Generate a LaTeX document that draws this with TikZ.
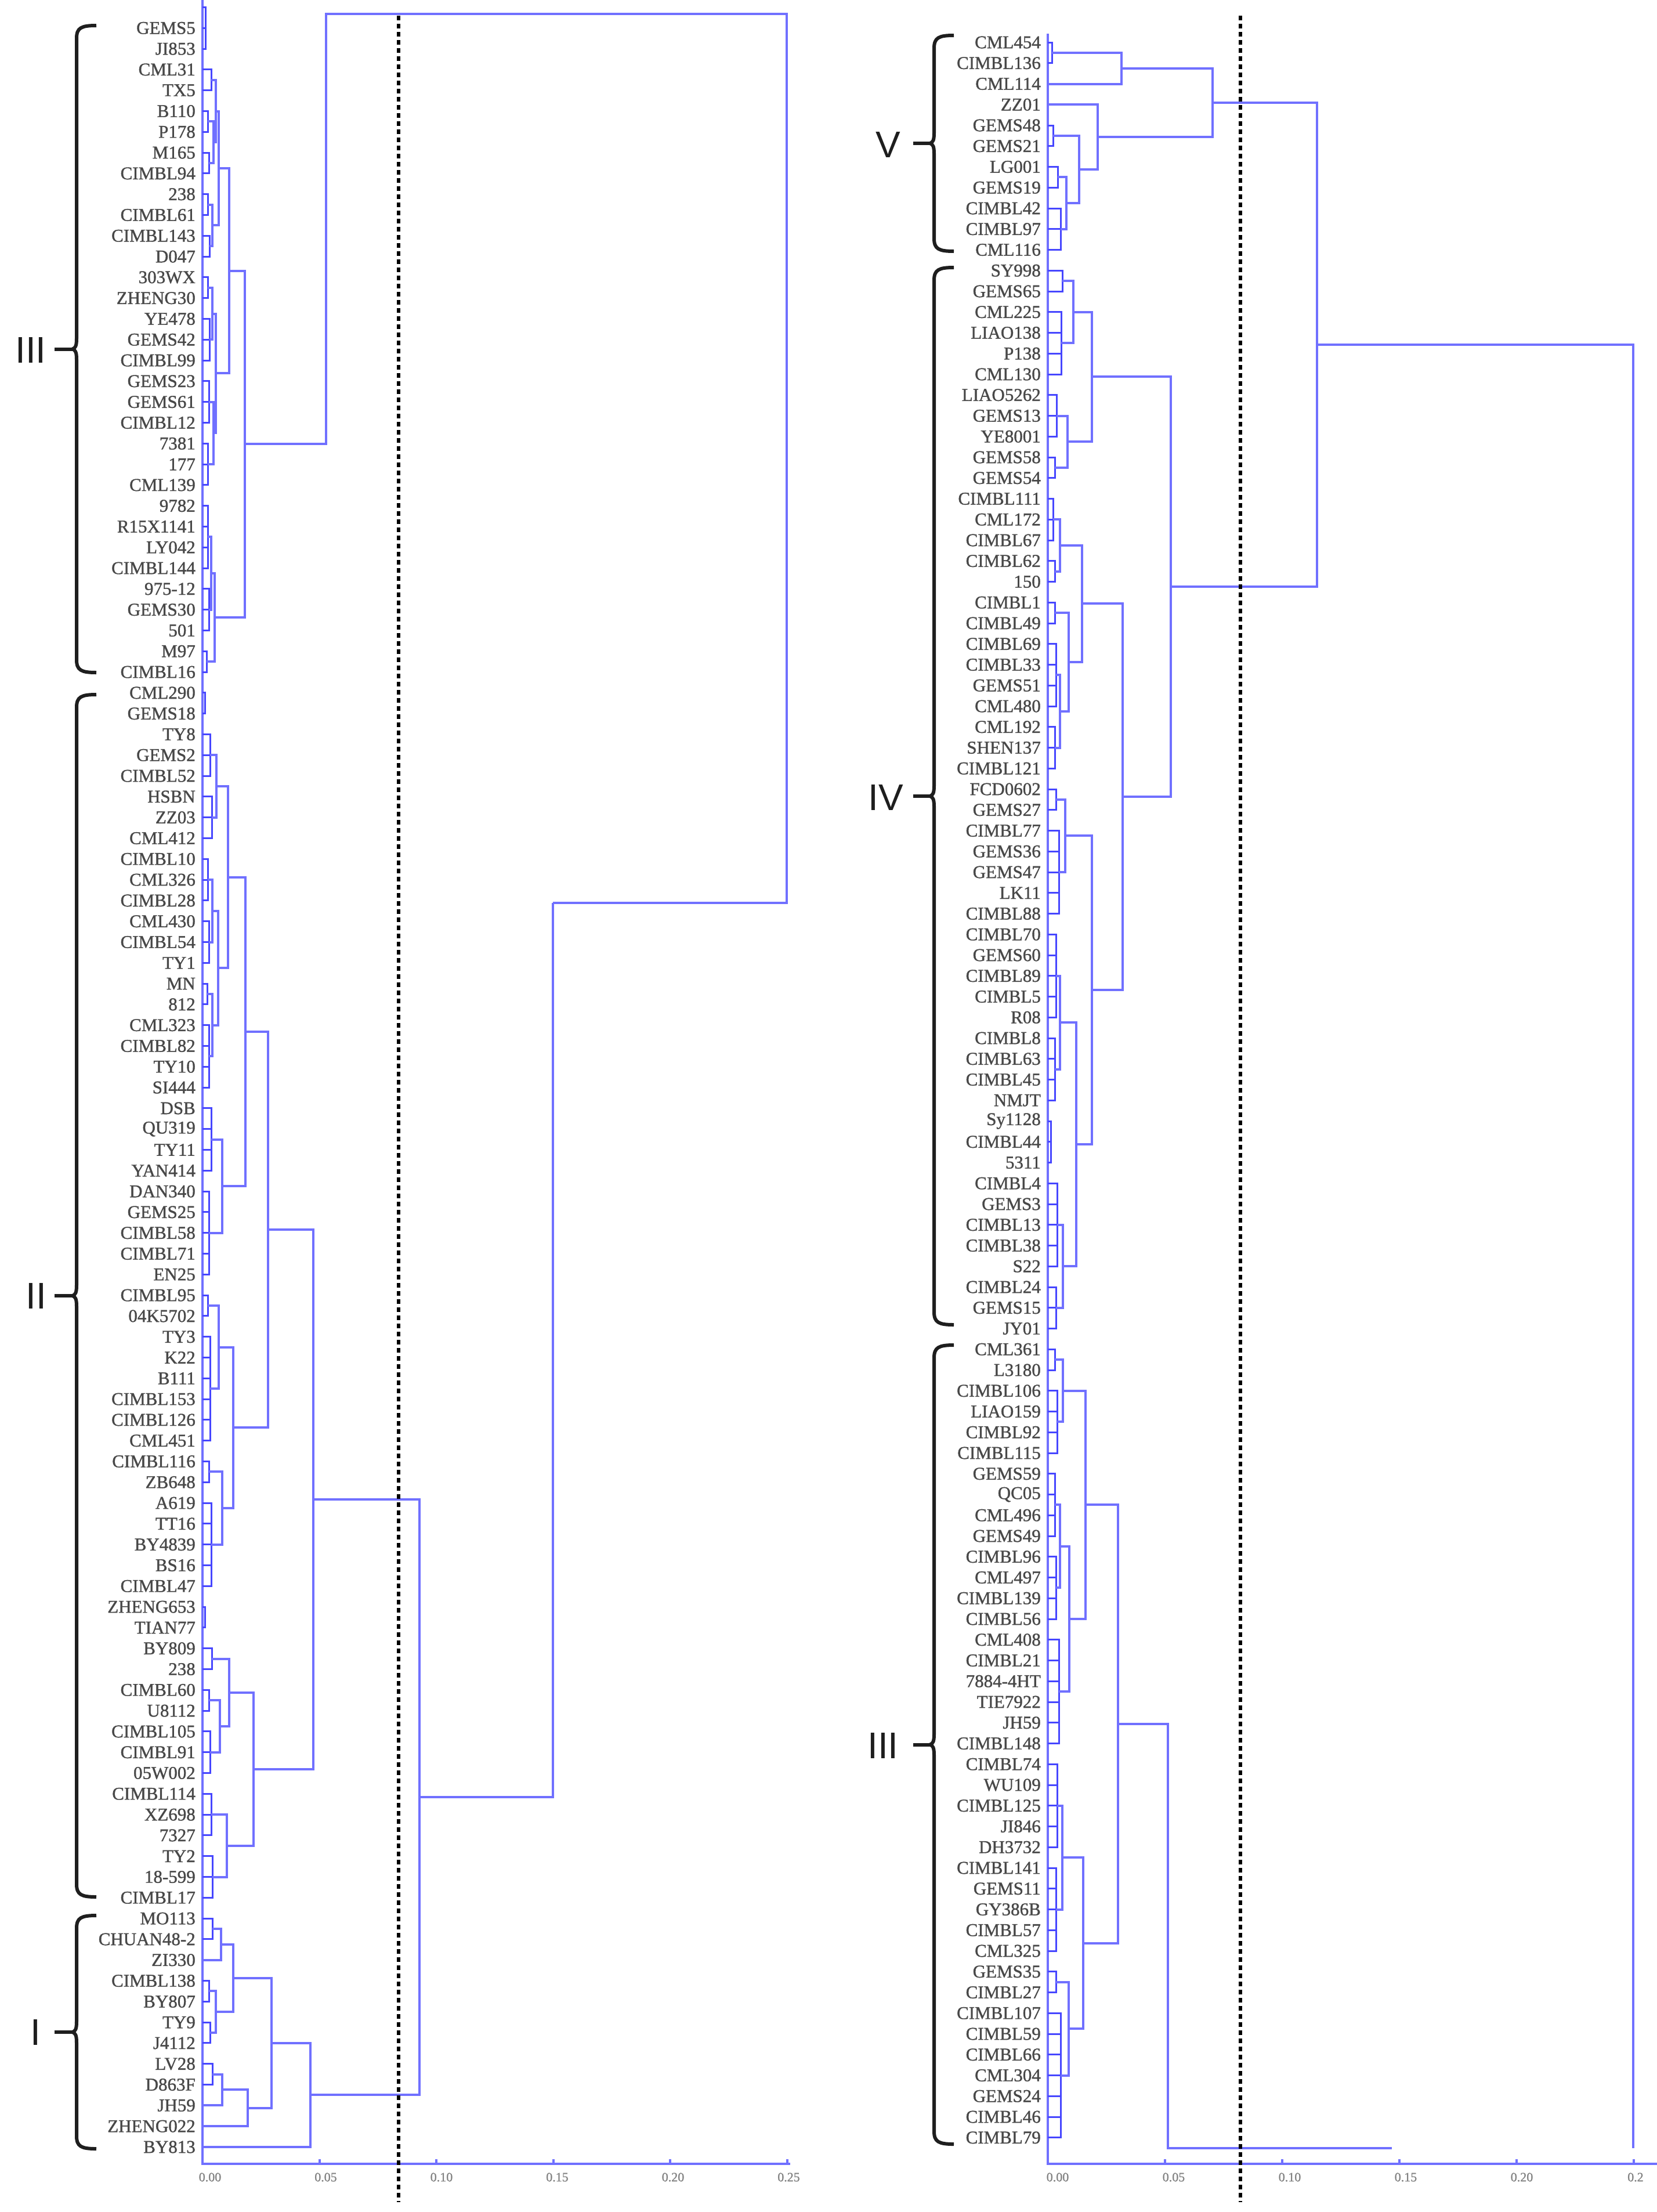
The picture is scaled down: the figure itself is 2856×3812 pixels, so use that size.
\documentclass[tikz,border=0pt]{standalone}
\usepackage{fontspec}
\setmainfont{Liberation Serif}
\newfontfamily\grpfont{Liberation Sans}
\newfontfamily\labfont{Liberation Serif}[FakeBold=1.2]
\usetikzlibrary{calc}
\definecolor{treeblue}{RGB}{112,112,255}
\definecolor{leafblue}{RGB}{70,70,255}
\definecolor{labgray}{RGB}{72,72,72}
\definecolor{tickgray}{RGB}{130,130,130}
\definecolor{brkblack}{RGB}{30,30,30}
\tikzset{
  br/.style={draw=treeblue, line width=4pt},
  fine/.style={draw=leafblue, line width=3pt},
  leaflab/.style={anchor=east, inner sep=0pt, text=labgray, font=\labfont\fontsize{31}{31}\selectfont},
  ticklab/.style={inner sep=0pt, text=tickgray, font=\labfont\fontsize{22}{22}\selectfont},
  grplab/.style={inner sep=0pt, text=brkblack, font=\grpfont\fontsize{64}{64}\selectfont},
  brk/.style={draw=brkblack, line width=6pt},
  cutline/.style={draw=black, line width=6pt, dash pattern=on 8pt off 6pt},
}
% join two children at height x
\newcommand\dgjoin[4]{%
  \coordinate (#1-m) at ($(#3)!0.5!(#4)$);
  \coordinate (#1) at (#2,0 |- #1-m);
  \draw[br] (#3) -| (#1) |- (#4);
}
% comb of consecutive leaves
\newcommand\dgcomb[5]{%
  \coordinate (#1-m) at ($(#3#4)!0.5!(#3#5)$);
  \coordinate (#1) at (#2,0 |- #1-m);
  \foreach \k in {#4,...,#5} {\draw[fine] (#3\k) -| (#1);}
}
% group brace: name, x of vertical, ytop, ybot, x of tick start
\newcommand\dgbrace[5]{%
  \coordinate (#1t) at (#2+34,#3);
  \coordinate (#1b) at (#2+34,#4);
  \coordinate (#1m) at (#2-7,{(#3+#4)/2});
  \coordinate (#1k) at (#5,{(#3+#4)/2});
  \draw[brk] (#1t) .. controls (#2+8,#3) and (#2,#3+4) .. (#2,#3+22)
     -- (#2,{(#3+#4)/2-18}) .. controls (#2,{(#3+#4)/2-5}) and (#2-2,{(#3+#4)/2-2}) .. (#1m)
     .. controls (#2-2,{(#3+#4)/2+2}) and (#2,{(#3+#4)/2+5}) .. (#2,{(#3+#4)/2+18})
     -- (#2,#4-22) .. controls (#2,#4-4) and (#2+8,#4) .. (#1b);
  \draw[brk] (#1k) -- (#1m);
}
\begin{document}
\begin{tikzpicture}[x=1pt,y=-1pt]
\useasboundingbox (0,0) rectangle (2856,3812);
% ---------------- leaves
\foreach \i in {0,...,103} {\coordinate (L\i) at (349,{12.5+35.8*\i});}
\foreach \i in {0,...,101} {\coordinate (R\i) at (1806,{73+35.75*\i});}
% ---------------- leaf lines and axes
\coordinate (lx0t) at (349,0); \coordinate (lx0b) at (349,3729);
\coordinate (rx0t) at (1806,58); \coordinate (rx0b) at (1806,3729);
\coordinate (laxR) at (1362,3729); \coordinate (raxR) at (2856,3729);
\draw[br] (lx0t) -- (lx0b) -- (laxR);
\draw[br] (rx0t) -- (rx0b) -- (raxR);
\foreach \k in {1,...,5} {
  \coordinate (ltk\k) at ({349+201.5*\k},3729); \coordinate (ltu\k) at ({349+201.5*\k},3721);
  \draw[br] (ltk\k) -- (ltu\k);
  \coordinate (rtk\k) at ({1806+202*\k},3729); \coordinate (rtu\k) at ({1806+202*\k},3721);
  \draw[br] (rtk\k) -- (rtu\k);
}
% ================= LEFT TREE
\dgcomb{lc0}{354}{L}{0}{2}
\dgcomb{lc3}{364}{L}{3}{4}
\dgcomb{lc5}{358}{L}{5}{6}
\dgcomb{lc7}{360}{L}{7}{8}
\dgjoin{lj5}{368}{lc5}{lc7}
\dgjoin{lQ1a}{372}{lc3}{lj5}
\dgcomb{lc9}{358}{L}{9}{10}
\dgcomb{lc11}{361}{L}{11}{12}
\dgjoin{lQ1b}{366}{lc9}{lc11}
\dgjoin{lQ1}{377}{lQ1a}{lQ1b}
\dgcomb{lc13}{358}{L}{13}{14}
\dgcomb{lc15}{361}{L}{15}{17}
\dgjoin{lQ2a}{366}{lc13}{lc15}
\dgcomb{lc18}{360}{L}{18}{20}
\dgcomb{lc21}{358}{L}{21}{23}
\dgjoin{lQ2b}{368}{lc18}{lc21}
\dgjoin{lQ2}{372}{lQ2a}{lQ2b}
\dgjoin{lP1}{395}{lQ1}{lQ2}
\dgcomb{lc24}{358}{L}{24}{27}
\dgcomb{lc28}{360}{L}{28}{30}
\dgjoin{lP2a}{364}{lc24}{lc28}
\dgcomb{lc31}{356}{L}{31}{32}
\dgjoin{lP2}{370}{lP2a}{lc31}
\dgjoin{lIII}{422}{lP1}{lP2}
% II
\dgcomb{lc33}{353}{L}{33}{34}
\dgcomb{lc35}{362}{L}{35}{37}
\dgcomb{lc38}{365}{L}{38}{40}
\dgjoin{lN373}{373}{lc35}{lc38}
\dgcomb{lc41}{358}{L}{41}{43}
\dgcomb{lc44}{360}{L}{44}{46}
\dgjoin{lb1}{366}{lc41}{lc44}
\dgcomb{lc47}{357}{L}{47}{48}
\dgcomb{lc49}{360}{L}{49}{52}
\dgjoin{lb2}{366}{lc47}{lc49}
\dgjoin{lb}{376}{lb1}{lb2}
\dgjoin{lN393}{393}{lN373}{lb}
\dgcomb{lc53}{364}{L}{53}{56}
\dgcomb{lc57}{360}{L}{57}{61}
\dgjoin{lN380}{383}{lc53}{lc57}
\dgjoin{lN423}{423}{lN393}{lN380}
\dgcomb{lc62}{358}{L}{62}{63}
\dgcomb{lc64}{362}{L}{64}{69}
\dgjoin{lN377}{377}{lc62}{lc64}
\dgcomb{lc70}{360}{L}{70}{71}
\dgcomb{lc72}{364}{L}{72}{76}
\dgjoin{lN383}{383}{lc70}{lc72}
\dgjoin{lN402}{402}{lN377}{lN383}
\dgjoin{lN462}{462}{lN423}{lN402}
\dgcomb{lc77}{353}{L}{77}{78}
\dgcomb{lc79}{365}{L}{79}{80}
\dgcomb{lc81}{360}{L}{81}{82}
\dgcomb{lc83}{362}{L}{83}{85}
\dgjoin{lN379}{379}{lc81}{lc83}
\dgjoin{lN395}{395}{lc79}{lN379}
\dgcomb{lc86}{364}{L}{86}{88}
\dgcomb{lc89}{366}{L}{89}{91}
\dgjoin{lN391}{391}{lc86}{lc89}
\dgjoin{lN437}{437}{lN395}{lN391}
\dgjoin{lN540}{540}{lN462}{lN437}
% I
\dgcomb{lc92}{366}{L}{92}{93}
\dgjoin{lN379b}{381}{lc92}{L94}
\dgcomb{lc95}{360}{L}{95}{96}
\dgcomb{lc97}{362}{L}{97}{98}
\dgjoin{lN372}{372}{lc95}{lc97}
\dgjoin{lN402b}{402}{lN379b}{lN372}
\dgcomb{lc99}{366}{L}{99}{100}
\dgjoin{lN383b}{383}{lc99}{L101}
\dgjoin{lN427}{427}{lN383b}{L102}
\dgjoin{lN468}{468}{lN402b}{lN427}
\dgjoin{lN535}{535}{lN468}{L103}
\dgjoin{lN723}{723}{lN540}{lN535}
% upper links
\coordinate (lA) at (562,24); \coordinate (lRt) at (1356,24);
\coordinate (lRb) at (1356,1556); \coordinate (lB) at (953,1556);
\draw[br] (lIII) -| (lA) -- (lRt) -- (lRb) -- (lB);
\draw[br] (lN723) -| (lB);
% ================= RIGHT TREE
% V
\dgcomb{rc0}{1813}{R}{0}{1}
\dgjoin{rVt2}{1933}{rc0}{R2}
\dgcomb{rc4}{1815}{R}{4}{5}
\dgcomb{rc6}{1823}{R}{6}{7}
\dgcomb{rc8}{1828}{R}{8}{10}
\dgjoin{rN1838}{1838}{rc6}{rc8}
\dgjoin{rN1860}{1860}{rc4}{rN1838}
\dgjoin{rN1892}{1892}{R3}{rN1860}
\dgjoin{rN2090}{2090}{rVt2}{rN1892}
% IV
\dgcomb{rc11}{1831}{R}{11}{12}
\dgcomb{rc13}{1829}{R}{13}{16}
\dgjoin{rN1850}{1850}{rc11}{rc13}
\dgcomb{rc17}{1821}{R}{17}{19}
\dgcomb{rc20}{1818}{R}{20}{21}
\dgjoin{rN1840}{1840}{rc17}{rc20}
\dgjoin{rN1882}{1882}{rN1850}{rN1840}
\dgcomb{rc22}{1815}{R}{22}{24}
\dgcomb{rc25}{1818}{R}{25}{26}
\dgjoin{rN1827a}{1827}{rc22}{rc25}
\dgcomb{rc27}{1818}{R}{27}{28}
\dgcomb{rc29}{1820}{R}{29}{32}
\dgcomb{rc33}{1818}{R}{33}{35}
\dgjoin{rN1827b}{1827}{rc29}{rc33}
\dgjoin{rN1842}{1842}{rc27}{rN1827b}
\dgjoin{rN1865}{1865}{rN1827a}{rN1842}
\dgcomb{rc36}{1820}{R}{36}{37}
\dgcomb{rc38}{1825}{R}{38}{42}
\dgjoin{rN1829}{1836}{rc36}{rc38}
\dgcomb{rc43}{1820}{R}{43}{47}
\dgcomb{rc48}{1818}{R}{48}{51}
\dgjoin{rN1827c}{1827}{rc43}{rc48}
\dgcomb{rc52}{1811}{R}{52}{54}
\dgcomb{rc55}{1822}{R}{55}{59}
\dgcomb{rc60}{1820}{R}{60}{62}
\dgjoin{rN1832}{1832}{rc55}{rc60}
\dgjoin{rN1855}{1855}{rN1827c}{rN1832}
\dgjoin{rN1882b}{1882}{rN1829}{rN1855}
\dgjoin{rN1935}{1935}{rN1865}{rN1882b}
\dgjoin{rN2018}{2018}{rN1882}{rN1935}
\dgjoin{rN2270}{2270}{rN2090}{rN2018}
% III (right)
\dgcomb{rc63}{1818}{R}{63}{64}
\dgcomb{rc65}{1822}{R}{65}{68}
\dgjoin{rN1832b}{1832}{rc63}{rc65}
\dgcomb{rc69}{1818}{R}{69}{72}
\dgcomb{rc73}{1820}{R}{73}{76}
\dgjoin{rN1827d}{1827}{rc69}{rc73}
\dgcomb{rc77}{1825}{R}{77}{82}
\dgjoin{rN1843}{1843}{rN1827d}{rc77}
\dgjoin{rN1871}{1871}{rN1832b}{rN1843}
\dgcomb{rc83}{1822}{R}{83}{87}
\dgcomb{rc88}{1820}{R}{88}{92}
\dgjoin{rN1831}{1831}{rc83}{rc88}
\dgcomb{rc93}{1820}{R}{93}{94}
\dgcomb{rc95}{1828}{R}{95}{101}
\dgjoin{rN1842b}{1842}{rc93}{rc95}
\dgjoin{rN1867}{1867}{rN1831}{rN1842b}
\dgjoin{rN1927}{1927}{rN1871}{rN1867}
% root and lower link
\coordinate (rRt) at (2815,0 |- rN2270);
\coordinate (rRb) at (2815,3702);
\draw[br] (rN2270) -- (rRt) -- (rRb);
\coordinate (rIIIb) at (2013,3702); \coordinate (rIIIe) at (2399,3702);
\draw[br] (rN1927) -| (rIIIb) -- (rIIIe);
% ================= cut-off lines
\coordinate (ldt) at (687,27); \coordinate (ldb) at (687,3795);
\coordinate (rdt) at (2138,27); \coordinate (rdb) at (2138,3795);
\draw[cutline] (ldt) -- (ldb);
\draw[cutline] (rdt) -- (rdb);
% ================= labels
\foreach \n [count=\i from 1] in {GEMS5,JI853,CML31,TX5,B110,P178,M165,CIMBL94,238,CIMBL61,CIMBL143,D047,303WX,ZHENG30,YE478,GEMS42,CIMBL99,GEMS23,GEMS61,CIMBL12,7381,177,CML139,9782,R15X1141,LY042,CIMBL144,975-12,GEMS30,501,M97,CIMBL16,CML290,GEMS18,TY8,GEMS2,CIMBL52,HSBN,ZZ03,CML412,CIMBL10,CML326,CIMBL28,CML430,CIMBL54,TY1,MN,812,CML323,CIMBL82,TY10,SI444,DSB,QU319,TY11,YAN414,DAN340,GEMS25,CIMBL58,CIMBL71,EN25,CIMBL95,04K5702,TY3,K22,B111,CIMBL153,CIMBL126,CML451,CIMBL116,ZB648,A619,TT16,BY4839,BS16,CIMBL47,ZHENG653,TIAN77,BY809,238,CIMBL60,U8112,CIMBL105,CIMBL91,05W002,CIMBL114,XZ698,7327,TY2,18-599,CIMBL17,MO113,CHUAN48-2,ZI330,CIMBL138,BY807,TY9,J4112,LV28,D863F,JH59,ZHENG022,BY813}
  {\node[leaflab] (tL\i) at (337,{12.5+35.8*\i}) {\n};}
\foreach \n [count=\i from 0] in {CML454,CIMBL136,CML114,ZZ01,GEMS48,GEMS21,LG001,GEMS19,CIMBL42,CIMBL97,CML116,SY998,GEMS65,CML225,LIAO138,P138,CML130,LIAO5262,GEMS13,YE8001,GEMS58,GEMS54,CIMBL111,CML172,CIMBL67,CIMBL62,150,CIMBL1,CIMBL49,CIMBL69,CIMBL33,GEMS51,CML480,CML192,SHEN137,CIMBL121,FCD0602,GEMS27,CIMBL77,GEMS36,GEMS47,LK11,CIMBL88,CIMBL70,GEMS60,CIMBL89,CIMBL5,R08,CIMBL8,CIMBL63,CIMBL45,NMJT,Sy1128,CIMBL44,5311,CIMBL4,GEMS3,CIMBL13,CIMBL38,S22,CIMBL24,GEMS15,JY01,CML361,L3180,CIMBL106,LIAO159,CIMBL92,CIMBL115,GEMS59,QC05,CML496,GEMS49,CIMBL96,CML497,CIMBL139,CIMBL56,CML408,CIMBL21,7884-4HT,TIE7922,JH59,CIMBL148,CIMBL74,WU109,CIMBL125,JI846,DH3732,CIMBL141,GEMS11,GY386B,CIMBL57,CML325,GEMS35,CIMBL27,CIMBL107,CIMBL59,CIMBL66,CML304,GEMS24,CIMBL46,CIMBL79}
  {\node[leaflab] (tR\i) at (1794,{73+35.75*\i}) {\n};}
% axis tick labels
\foreach \v [count=\k from 0] in {0.00,0.05,0.10,0.15,0.20,0.25}
  {\node[ticklab] (ltl\k) at ({362+199.5*\k},3752) {\v};}
\foreach \v [count=\k from 0] in {0.00,0.05,0.10,0.15,0.20}
  {\node[ticklab] (rtl\k) at ({1823+200*\k},3752) {\v};}
\node[ticklab,anchor=west] (rtl5) at (2805,3752) {0.2};
% ================= group braces and labels
\dgbrace{bl3}{132}{44}{1159}{94}
\dgbrace{bl2}{132}{1197}{3269}{94}
\dgbrace{bl1}{132}{3301}{3703}{94}
\dgbrace{bq5}{1610}{61}{433}{1574}
\dgbrace{bq4}{1610}{461}{2283}{1574}
\dgbrace{bq3}{1610}{2318}{3695}{1574}
\node[grplab] (gl3) at (53,603) {III};
\node[grplab] (gl2) at (62,2233) {II};
\node[grplab] (gl1) at (61,3502) {I};
\node[grplab] (gr5) at (1531,249) {V};
\node[grplab] (gr4) at (1527,1374) {IV};
\node[grplab] (gr3) at (1522,3008) {III};
\end{tikzpicture}
\end{document}
